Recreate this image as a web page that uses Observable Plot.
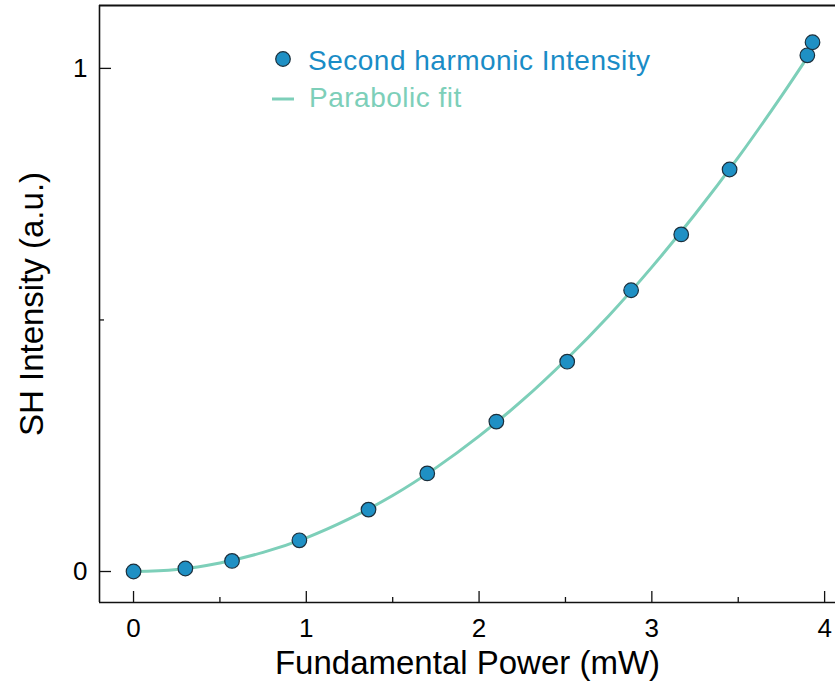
<!DOCTYPE html>
<html>
<head>
<meta charset="utf-8">
<script src="https://cdn.jsdelivr.net/npm/d3@7"></script>
<script src="https://cdn.jsdelivr.net/npm/@observablehq/plot@0.6"></script>
<style>
  html, body { margin: 0; padding: 0; background: #fff; }
  #wrap { position: relative; width: 835px; height: 683px; font-family: "Liberation Sans", Arial, sans-serif; }
  #legend { position: absolute; left: 0; top: 0; pointer-events: none; }
</style>
</head>
<body>
<div id="wrap"></div>
<script>
// Measured data (Fundamental power in mW, SH intensity in a.u.)
const power = [0, 0.30, 0.57, 0.96, 1.36, 1.70, 2.10, 2.51, 2.88, 3.17, 3.45, 3.90, 3.93];
const shIntensity = [0, 0.006, 0.021, 0.062, 0.123, 0.195, 0.298, 0.417, 0.559, 0.670, 0.799, 1.026, 1.052];

// Parabolic fit curve
const fitPower = [0, 0.25, 0.5, 0.75, 1.0, 1.25, 1.5, 1.75, 2.0, 2.25, 2.5, 2.75, 3.0, 3.25, 3.5, 3.75, 3.9];
const fitIntensity = [0, 0.004, 0.017, 0.038, 0.067, 0.105, 0.151, 0.206, 0.269, 0.340, 0.420, 0.508, 0.605, 0.710, 0.823, 0.945, 1.022];

// Tick labels
const xTicks = [0, 1, 2, 3, 4];
const xMinorTicks = [0.5, 1.5, 2.5, 3.5];
const yTicks = [0, 1];
const yMinorTicks = [0.5];

const xDomain = [-0.197, 4.063];
const yDomain = [-0.0616, 1.125];

const points = power.map((p, i) => ({p, v: shIntensity[i]}));
const fit = fitPower.map((p, i) => ({p, v: fitIntensity[i]}));

const dotFill = "#1f90c4";
const fitColor = "#7dcfb9";

const chart = Plot.plot({
  width: 835,
  height: 683,
  marginLeft: 99,
  marginRight: 0,
  marginTop: 5,
  marginBottom: 81,
  style: {fontFamily: "'Liberation Sans', Arial, sans-serif", color: "#000", background: "#fff"},
  x: {domain: xDomain},
  y: {domain: yDomain},
  marks: [
    // axis frame (left, bottom, top)
    Plot.ruleX([xDomain[0]], {stroke: "#111", strokeWidth: 1.6}),
    Plot.ruleY([yDomain[0]], {stroke: "#111", strokeWidth: 1.6}),
    Plot.ruleY([yDomain[1]], {stroke: "#111", strokeWidth: 1.8}),
    // inward ticks
    Plot.axisX({ticks: xTicks, tickSize: -11, text: null, stroke: "#111", strokeWidth: 1.3, label: null}),
    Plot.axisX({ticks: xMinorTicks, tickSize: -5, text: null, stroke: "#111", strokeWidth: 1.3, label: null}),
    Plot.axisY({ticks: yTicks, tickSize: -12, text: null, stroke: "#111", strokeWidth: 1.3, label: null}),
    Plot.axisY({ticks: yMinorTicks, tickSize: -5, text: null, stroke: "#111", strokeWidth: 1.3, label: null}),
    // tick labels
    Plot.axisX({ticks: xTicks, tickSize: 0, tickPadding: 16, fontSize: 26, tickFormat: d3.format("d"), label: null, fill: "#000"}),
    Plot.axisY({ticks: yTicks, tickSize: 0, tickPadding: 12, fontSize: 26, tickFormat: d3.format("d"), label: null, fill: "#000"}),
    // axis titles
    Plot.text(["Fundamental Power (mW)"], {frameAnchor: "bottom", dy: 71, lineAnchor: "bottom", textAnchor: "middle", fontSize: 33, fill: "#000"}),
    Plot.text(["SH Intensity (a.u.)"], {frameAnchor: "left", dx: -57, rotate: -90, lineAnchor: "bottom", textAnchor: "middle", fontSize: 33, fill: "#000"}),
    // fit curve
    Plot.line(fit, {x: "p", y: "v", stroke: fitColor, strokeWidth: 3, curve: "catmull-rom"}),
    // data points
    Plot.dot(points, {x: "p", y: "v", r: 7.3, fill: dotFill, stroke: "#1b2f3c", strokeWidth: 1.2})
  ]
});

const wrap = document.getElementById("wrap");
wrap.appendChild(chart);

// Legend overlay
const ns = "http://www.w3.org/2000/svg";
const leg = document.createElementNS(ns, "svg");
leg.setAttribute("id", "legend");
leg.setAttribute("width", 835);
leg.setAttribute("height", 130);
leg.innerHTML = `
  <circle cx="283" cy="59" r="7.3" fill="${dotFill}" stroke="#1b2f3c" stroke-width="1.2"></circle>
  <text x="308" y="70" font-size="28" fill="#1a8cc6" font-family="'Liberation Sans', Arial, sans-serif" letter-spacing="0.5">Second harmonic Intensity</text>
  <line x1="272" x2="294" y1="99" y2="99" stroke="${fitColor}" stroke-width="3"></line>
  <text x="309" y="107" font-size="28" fill="${fitColor}" font-family="'Liberation Sans', Arial, sans-serif" letter-spacing="0.5">Parabolic fit</text>
`;
wrap.appendChild(leg);
</script>
</body>
</html>
